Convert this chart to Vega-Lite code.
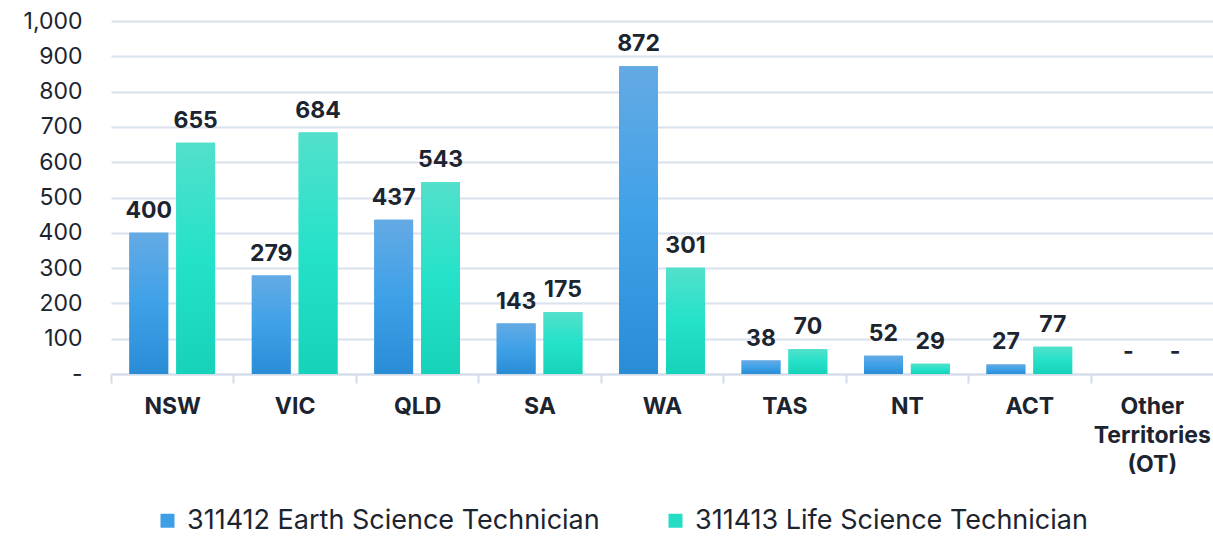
{
  "$schema": "https://vega.github.io/schema/vega-lite/v6.json",
  "width": 1102,
  "height": 353,
  "autosize": {"type": "none"},
  "padding": {"left": 111, "top": 21, "right": 0, "bottom": 163},
  "background": "white",
  "config": {
    "font": "Inter",
    "view": {"stroke": null},
    "text": {"color": "#1c2430"}
  },
  "data": {
    "values": [
      {"state": "NSW", "series": "311412 Earth Science Technician", "value": 400},
      {"state": "NSW", "series": "311413 Life Science Technician", "value": 655},
      {"state": "VIC", "series": "311412 Earth Science Technician", "value": 279},
      {"state": "VIC", "series": "311413 Life Science Technician", "value": 684},
      {"state": "QLD", "series": "311412 Earth Science Technician", "value": 437},
      {"state": "QLD", "series": "311413 Life Science Technician", "value": 543},
      {"state": "SA", "series": "311412 Earth Science Technician", "value": 143},
      {"state": "SA", "series": "311413 Life Science Technician", "value": 175},
      {"state": "WA", "series": "311412 Earth Science Technician", "value": 872},
      {"state": "WA", "series": "311413 Life Science Technician", "value": 301},
      {"state": "TAS", "series": "311412 Earth Science Technician", "value": 38},
      {"state": "TAS", "series": "311413 Life Science Technician", "value": 70},
      {"state": "NT", "series": "311412 Earth Science Technician", "value": 52},
      {"state": "NT", "series": "311413 Life Science Technician", "value": 29},
      {"state": "ACT", "series": "311412 Earth Science Technician", "value": 27},
      {"state": "ACT", "series": "311413 Life Science Technician", "value": 77},
      {"state": "Other Territories (OT)", "series": "311412 Earth Science Technician", "value": 0},
      {"state": "Other Territories (OT)", "series": "311413 Life Science Technician", "value": 0}
    ]
  },
  "encoding": {
    "x": {
      "field": "state",
      "type": "nominal",
      "sort": null,
      "title": null,
      "scale": {"paddingInner": 0.3, "paddingOuter": 0.15},
      "axis": {
        "labelAngle": 0,
        "labelFontSize": 23,
        "labelFontWeight": "bold",
        "labelColor": "#1c2430",
        "labelLineHeight": 29,
        "labelPadding": 12,
        "labelLimit": 0,
        "labelExpr": "datum.label == 'Other Territories (OT)' ? ['Other', 'Territories', '(OT)'] : datum.label",
        "bandPosition": 0,
        "tickOffset": -18.37,
        "labelOffset": 18.37,
        "domainColor": "#d3dde9",
        "domainWidth": 2,
        "tickColor": "#d3dde9",
        "tickWidth": 2,
        "tickSize": 9,
        "grid": false
      }
    },
    "xOffset": {
      "field": "series",
      "type": "nominal",
      "scale": {"paddingInner": 0.171, "paddingOuter": 0}
    },
    "y": {
      "field": "value",
      "type": "quantitative",
      "title": null,
      "scale": {"domain": [0, 1000], "nice": false},
      "axis": {
        "values": [0, 100, 200, 300, 400, 500, 600, 700, 800, 900, 1000],
        "labelExpr": "datum.value == 0 ? '-' : format(datum.value, ',')",
        "labelFontSize": 23,
        "labelColor": "#1c2430",
        "labelPadding": 29,
        "ticks": false,
        "tickSize": 0,
        "domain": false,
        "gridColor": "#d9e2ed",
        "gridWidth": 2
      }
    }
  },
  "layer": [
    {
      "mark": {"type": "bar"},
      "encoding": {
        "color": {
          "field": "series",
          "type": "nominal",
          "scale": {"range": ["#3f9fe6", "#25dcc4"]},
          "legend": {
            "orient": "none",
            "legendX": 43,
            "legendY": 486,
            "direction": "horizontal",
            "title": null,
            "labelFontSize": 27,
            "labelLimit": 0,
            "labelColor": "#1c2430",
            "symbolType": "square",
            "symbolSize": 196,
            "symbolStrokeWidth": 0,
            "labelOffset": 6,
            "columnPadding": 62
          }
        }
      }
    },
    {
      "mark": {"type": "bar"},
      "encoding": {
        "fill": {
          "condition": {
            "test": "datum.series === '311412 Earth Science Technician'",
            "value": {
              "gradient": "linear", "x1": 0, "y1": 0, "x2": 0, "y2": 1,
              "stops": [
                {"offset": 0, "color": "#64aae4"},
                {"offset": 0.5, "color": "#3ea1e8"},
                {"offset": 1, "color": "#2a8cd5"}
              ]
            }
          },
          "value": {
            "gradient": "linear", "x1": 0, "y1": 0, "x2": 0, "y2": 1,
            "stops": [
              {"offset": 0, "color": "#52e0cb"},
              {"offset": 0.5, "color": "#24e2c9"},
              {"offset": 1, "color": "#16d2b8"}
            ]
          }
        }
      }
    },
    {
      "mark": {"type": "text", "fontSize": 23, "fontWeight": "bold", "baseline": "alphabetic", "dy": -15, "color": "#1c2430"},
      "encoding": {
        "text": {
          "condition": {"test": "datum.value == 0", "value": "-"},
          "field": "value",
          "type": "quantitative",
          "format": ","
        }
      }
    }
  ]
}
